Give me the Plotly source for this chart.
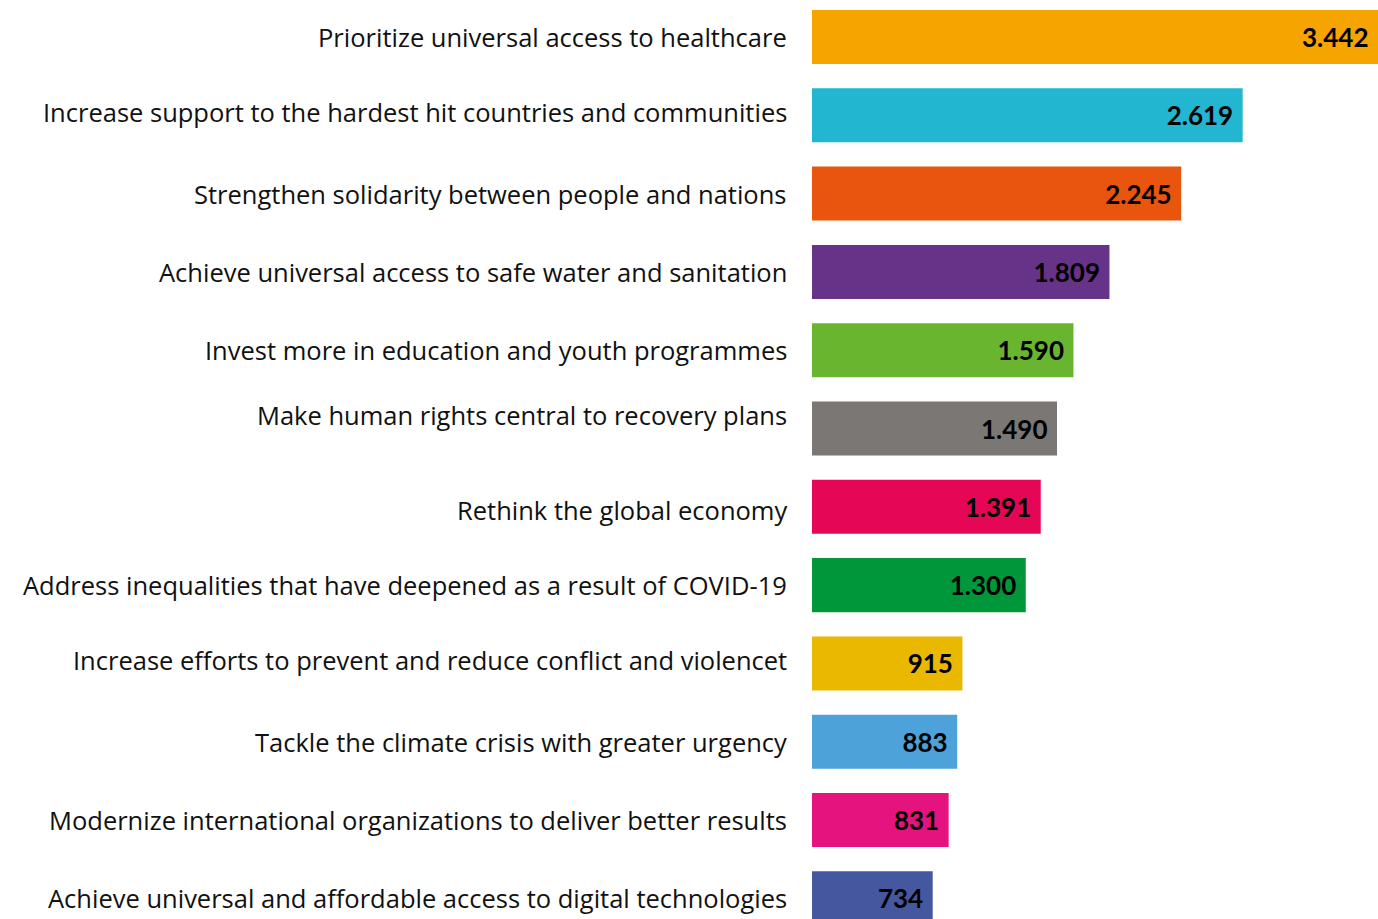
import plotly.graph_objects as go

categories = [
    "Prioritize universal access to healthcare",
    "Increase support to the hardest hit countries and communities",
    "Strengthen solidarity between people and nations",
    "Achieve universal access to safe water and sanitation",
    "Invest more in education and youth programmes",
    "Make human rights central to recovery plans",
    "Rethink the global economy",
    "Address inequalities that have deepened as a result of COVID-19",
    "Increase efforts to prevent and reduce conflict and violencet",
    "Tackle the climate crisis with greater urgency",
    "Modernize international organizations to deliver better results",
    "Achieve universal and affordable access to digital technologies",
]
values = [3442, 2619, 2245, 1809, 1590, 1490, 1391, 1300, 915, 883, 831, 734]
colors = ["#F6A500", "#22B6D1", "#E9540F", "#663388", "#69B530", "#7B7775",
          "#E50656", "#00973B", "#EBB800", "#4DA2DA", "#E5137E", "#45589F"]

labels = [f"{v:,}".replace(",", ".") + "\u2009\u2009" for v in values]

# small vertical nudges of some category labels (pixels, positive = up)
label_nudge = {
    "Increase support to the hardest hit countries and communities": 3,
    "Make human rights central to recovery plans": 14,
    "Rethink the global economy": -3,
    "Increase efforts to prevent and reduce conflict and violencet": 3,
}

fig = go.Figure(go.Bar(
    y=categories, x=values, orientation="h",
    marker=dict(color=colors, line=dict(width=0)),
    text=labels, textposition="inside", insidetextanchor="end",
    textfont=dict(family="Lato", size=26, color="black", weight="bold"),
    textangle=0, cliponaxis=False, hoverinfo="skip",
))

for c in categories:
    fig.add_annotation(
        x=0, xref="paper", y=c, yref="y",
        text=c, showarrow=False, xanchor="right", yanchor="middle",
        xshift=-23, yshift=label_nudge.get(c, 0),
        font=dict(family="Open Sans", size=25.5, color="#111111"),
    )

fig.update_layout(
    width=1378, height=919,
    margin=dict(l=812, r=0, t=0, b=0),
    paper_bgcolor="white", plot_bgcolor="white",
    bargap=0.31, showlegend=False,
    uniformtext=dict(minsize=26, mode="show"),
)
fig.update_xaxes(range=[0, 3442], visible=False, showgrid=False, zeroline=False)
fig.update_yaxes(
    range=[11.264, -0.4726], showgrid=False, zeroline=False, showline=False,
    ticks="", showticklabels=False,
)

fig.write_html(
    "out.html",
    config={"displayModeBar": False},
    post_script="document.body.style.margin='0';document.body.style.overflow='hidden';",
)
